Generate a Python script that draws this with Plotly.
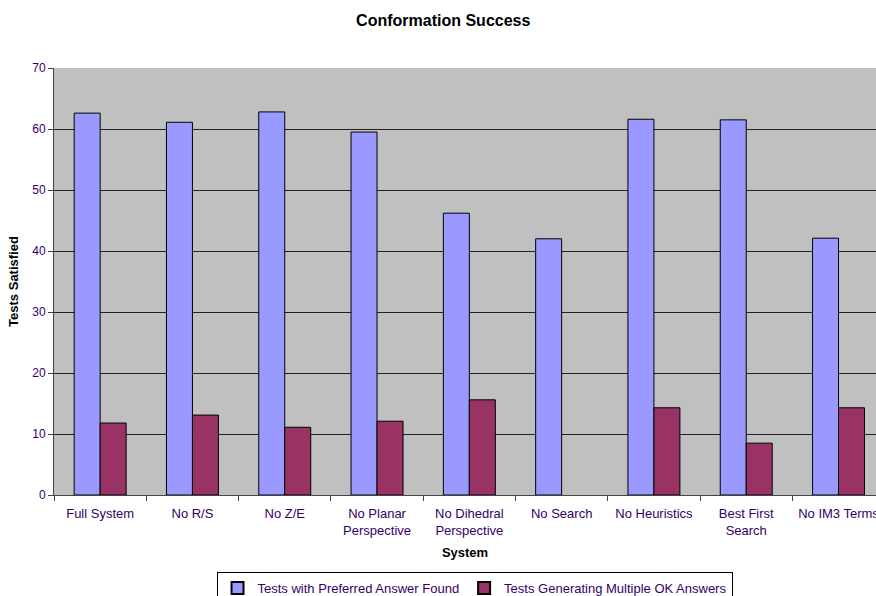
import plotly.graph_objects as go

categories = ["Full System", "No R/S", "No Z/E", "No Planar<br>Perspective",
              "No Dihedral<br>Perspective", "No Search", "No Heuristics",
              "Best First<br>Search", "No IM3 Terms"]
preferred = [62.6, 61.1, 62.8, 59.5, 46.2, 42.0, 61.6, 61.5, 42.1]
multiple = [11.8, 13.1, 11.1, 12.1, 15.6, 0, 14.3, 8.5, 14.3]
y_ticks = [0, 10, 20, 30, 40, 50, 60, 70]

label_color = "#330066"
font_family = "Liberation Sans, Arial, sans-serif"

fig = go.Figure()
fig.add_trace(go.Bar(
    x=categories, y=preferred, name="Tests with Preferred Answer Found",
    marker=dict(color="#9999FF", line=dict(color="#000000", width=1)),
))
fig.add_trace(go.Bar(
    x=categories, y=multiple, name="Tests Generating Multiple OK Answers",
    marker=dict(color="#993366",
                line=dict(color="#000000", width=[0 if v == 0 else 1 for v in multiple])),
))

fig.update_layout(
    width=876, height=596,
    margin=dict(l=54, r=0, t=68, b=101, autoexpand=False),
    paper_bgcolor="white",
    plot_bgcolor="#C0C0C0",
    barmode="group",
    bargap=0.437,
    bargroupgap=0,
    font=dict(family=font_family, size=13, color=label_color),
    title=dict(text="<b>Conformation Success</b>", x=0.506, xanchor="center",
               y=0.966, yanchor="middle", xref="container",
               font=dict(size=16, color="#000000", family=font_family)),
    xaxis=dict(
        range=[-0.5, 8.406],
        automargin=False,
        tickson="boundaries", ticks="outside", ticklen=5, tickcolor="#444444",
        showline=True, linecolor="#444444", linewidth=1,
        showgrid=False,
        ticklabelstandoff=6,
        tickfont=dict(size=13, color=label_color),
        title=dict(text="<b>System</b>", font=dict(size=13, color="#000000"), standoff=11),
    ),
    yaxis=dict(
        range=[0, 70], tickvals=y_ticks,
        automargin=False,
        ticks="outside", ticklen=5, tickcolor="#444444",
        showline=True, linecolor="#444444", linewidth=1,
        showgrid=True, gridcolor="#222222", gridwidth=1,
        zeroline=False,
        tickfont=dict(size=12, color=label_color),
        title=dict(text="<b>Tests Satisfied</b>", font=dict(size=13, color="#000000"), standoff=10),
    ),
    legend=dict(
        orientation="h", xref="container", yref="container",
        x=0.5417, xanchor="center", y=1 - 572 / 596, yanchor="top",
        bgcolor="white", bordercolor="#000000", borderwidth=1,
        font=dict(size=13, color=label_color),
        itemsizing="constant", itemwidth=30, tracegroupgap=0,
    ),
)

fig.write_html("out.html")
